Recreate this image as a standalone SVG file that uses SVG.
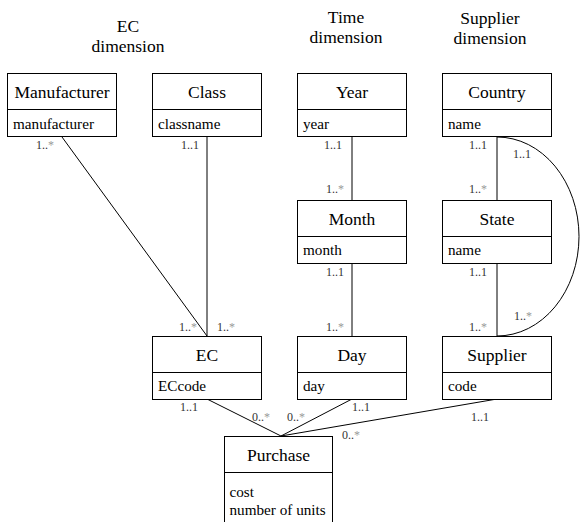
<svg xmlns="http://www.w3.org/2000/svg" width="581" height="522" viewBox="0 0 581 522" font-family="Liberation Serif, DejaVu Serif, serif">
<style>
.box{fill:#fff;stroke:#000;stroke-width:1}
.div{stroke:#000;stroke-width:1}
.title{font-size:17.5px;fill:#000;text-anchor:middle}
.attr{font-size:15.2px;fill:#000}
.hdr{font-size:17.5px;fill:#000;text-anchor:middle}
.m{font-size:12px;fill:#333}
.s{fill:#999}
.c{fill:none;stroke:#000;stroke-width:1}
</style>
<rect width="581" height="522" fill="#fff"/>
<g id="headers">
<text class="hdr" x="128" y="32">EC</text>
<text class="hdr" x="128" y="52">dimension</text>
<text class="hdr" x="346" y="23">Time</text>
<text class="hdr" x="346" y="43">dimension</text>
<text class="hdr" x="490" y="24">Supplier</text>
<text class="hdr" x="490" y="44">dimension</text>
</g>
<g id="connectors">
<line class="c" x1="62" y1="137" x2="207" y2="336"/>
<line class="c" x1="207" y1="137" x2="207" y2="336"/>
<line class="c" x1="352" y1="137" x2="352" y2="200"/>
<line class="c" x1="352" y1="263" x2="352" y2="336"/>
<line class="c" x1="497" y1="137" x2="497" y2="200"/>
<line class="c" x1="497" y1="263" x2="497" y2="336"/>
<path class="c" d="M497,137 A82,99.5 0 0 1 497,336"/>
<line class="c" x1="207" y1="399" x2="281" y2="436"/>
<line class="c" x1="352" y1="399" x2="281" y2="436"/>
<line class="c" x1="497" y1="399" x2="281" y2="436"/>
</g>
<g id="multiplicities">
<text class="m" x="36" y="149">1..<tspan class="s">*</tspan></text>
<text class="m" x="181" y="149">1..1</text>
<text class="m" x="324" y="149">1..1</text>
<text class="m" x="469" y="149">1..1</text>
<text class="m" x="513" y="158">1..1</text>
<text class="m" x="326" y="193">1..<tspan class="s">*</tspan></text>
<text class="m" x="469" y="193">1..<tspan class="s">*</tspan></text>
<text class="m" x="326" y="276">1..1</text>
<text class="m" x="469" y="276">1..1</text>
<text class="m" x="326" y="331">1..<tspan class="s">*</tspan></text>
<text class="m" x="469" y="331">1..<tspan class="s">*</tspan></text>
<text class="m" x="514" y="320">1..<tspan class="s">*</tspan></text>
<text class="m" x="179" y="331">1..<tspan class="s">*</tspan></text>
<text class="m" x="217" y="331">1..<tspan class="s">*</tspan></text>
<text class="m" x="180" y="411">1..1</text>
<text class="m" x="252" y="421">0..<tspan class="s">*</tspan></text>
<text class="m" x="287" y="421">0..<tspan class="s">*</tspan></text>
<text class="m" x="352" y="411">1..1</text>
<text class="m" x="342" y="439">0..<tspan class="s">*</tspan></text>
<text class="m" x="471" y="421">1..1</text>
</g>
<g id="manufacturer">
<rect class="box" x="7.5" y="73.5" width="109" height="63"/>
<line class="div" x1="7.5" y1="109.5" x2="116.5" y2="109.5"/>
<text class="title" x="62" y="98">Manufacturer</text>
<text class="attr" x="13" y="128.5">manufacturer</text>
</g>
<g id="class">
<rect class="box" x="152.5" y="73.5" width="109" height="63"/>
<line class="div" x1="152.5" y1="109.5" x2="261.5" y2="109.5"/>
<text class="title" x="207" y="98">Class</text>
<text class="attr" x="158" y="128.5">classname</text>
</g>
<g id="year">
<rect class="box" x="297.5" y="73.5" width="109" height="63"/>
<line class="div" x1="297.5" y1="109.5" x2="406.5" y2="109.5"/>
<text class="title" x="352" y="98">Year</text>
<text class="attr" x="303" y="128.5">year</text>
</g>
<g id="country">
<rect class="box" x="442.5" y="73.5" width="109" height="63"/>
<line class="div" x1="442.5" y1="109.5" x2="551.5" y2="109.5"/>
<text class="title" x="497" y="98">Country</text>
<text class="attr" x="448" y="128.5">name</text>
</g>
<g id="month">
<rect class="box" x="297.5" y="200.5" width="109" height="63"/>
<line class="div" x1="297.5" y1="236.5" x2="406.5" y2="236.5"/>
<text class="title" x="352" y="224.5">Month</text>
<text class="attr" x="303" y="255">month</text>
</g>
<g id="state">
<rect class="box" x="442.5" y="200.5" width="109" height="63"/>
<line class="div" x1="442.5" y1="236.5" x2="551.5" y2="236.5"/>
<text class="title" x="497" y="224.5">State</text>
<text class="attr" x="448" y="255">name</text>
</g>
<g id="ec">
<rect class="box" x="152.5" y="336.5" width="109" height="63"/>
<line class="div" x1="152.5" y1="372.5" x2="261.5" y2="372.5"/>
<text class="title" x="207" y="361">EC</text>
<text class="attr" x="158" y="391">ECcode</text>
</g>
<g id="day">
<rect class="box" x="297.5" y="336.5" width="109" height="63"/>
<line class="div" x1="297.5" y1="372.5" x2="406.5" y2="372.5"/>
<text class="title" x="352" y="361">Day</text>
<text class="attr" x="303" y="391">day</text>
</g>
<g id="supplier">
<rect class="box" x="442.5" y="336.5" width="109" height="63"/>
<line class="div" x1="442.5" y1="372.5" x2="551.5" y2="372.5"/>
<text class="title" x="497" y="361">Supplier</text>
<text class="attr" x="448" y="391">code</text>
</g>
<g id="purchase">
<rect class="box" x="224.5" y="436.5" width="108" height="90"/>
<line class="div" x1="224.5" y1="472.5" x2="332.5" y2="472.5"/>
<text class="title" x="278.5" y="461">Purchase</text>
<text class="attr" x="229.5" y="497">cost</text>
<text class="attr" x="229.5" y="515">number of units</text>
</g>
</svg>
